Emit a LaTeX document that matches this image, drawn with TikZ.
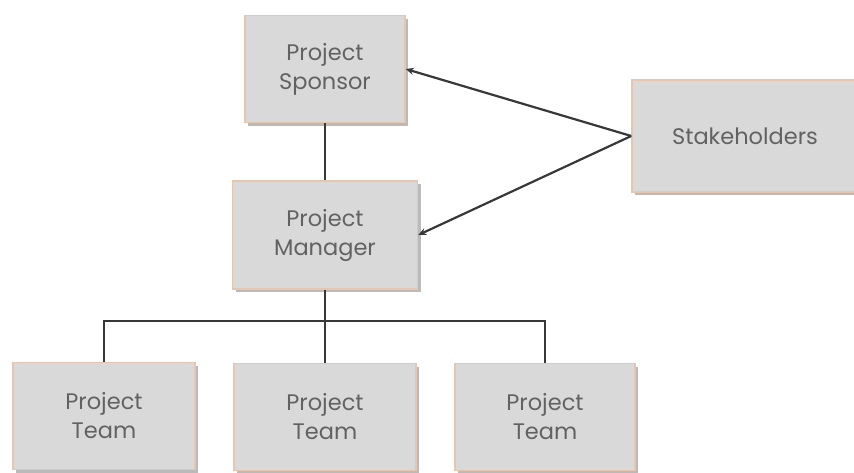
\documentclass[tikz,border=0pt]{standalone}
\usepackage{fontspec}
\setmainfont{Poppins}
\usepackage{tikz}
\usetikzlibrary{arrows.meta, shadows}

\definecolor{boxfill}{HTML}{D9D9D9}
\definecolor{boxedge}{HTML}{E6C6B0}
\definecolor{boxtext}{HTML}{626262}
\definecolor{wire}{HTML}{383838}

\begin{document}
\begin{tikzpicture}[x=1pt, y=-1pt,
  orgbox/.style={draw=boxedge, line width=1.5pt, fill=boxfill, text=boxtext,
    align=center, font=\fontsize{22.5}{29}\selectfont, inner sep=0pt,
    drop shadow={shadow xshift=3pt, shadow yshift=-3pt, fill=black!45, opacity=0.6}},
  wire/.style={draw=wire, line width=2.2pt},
  tip/.style={-{Stealth[length=8pt, width=7pt]}}]
  \useasboundingbox (0,0) rectangle (854,472);

  \node[orgbox, minimum width=160pt, minimum height=107pt] at (325,69) (sponsor) {Project\\Sponsor};
  \node[orgbox, minimum width=185pt, minimum height=108pt] at (325,235) (manager) {Project\\Manager};
  \node[orgbox, minimum width=226pt, minimum height=112pt] at (745,136) (stake) {Stakeholders};
  \node[orgbox, minimum width=182pt, minimum height=107pt] at (104,416) (teamA) {Project\\Team};
  \node[orgbox, minimum width=182pt, minimum height=107pt] at (325,417) (teamB) {Project\\Team};
  \node[orgbox, minimum width=180pt, minimum height=107pt] at (545,417) (teamC) {Project\\Team};

  \coordinate (bus) at (325,321);

  \draw[wire] (sponsor.south) -- (manager.north);
  \draw[wire] (manager.south) -- (bus);
  \draw[wire] (teamA.north) |- (bus) -| (teamC.north);
  \draw[wire] (bus) -- (teamB.north);

  \draw[wire, tip] (stake.west) -- (sponsor.east);
  \draw[wire, tip] (stake.west) -- (manager.east);
\end{tikzpicture}
\end{document}
